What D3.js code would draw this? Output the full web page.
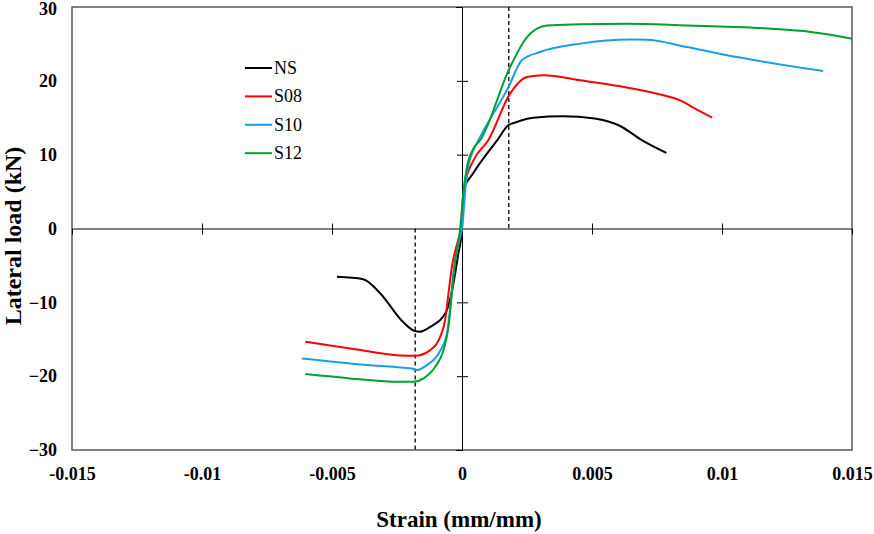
<!DOCTYPE html>
<html>
<head>
<meta charset="utf-8">
<script src="https://cdn.jsdelivr.net/npm/d3@7"></script>
<style>
  body { margin: 0; background: #fff; }
  svg { display: block; font-family: "Liberation Serif", "Times New Roman", serif; }
</style>
</head>
<body>
<div id="chart"></div>
<script>
// strain (mm/mm), lateral load (kN)
const ns = [[-0.00481, -6.55], [-0.0038, -6.86], [-0.00315, -8.76], [-0.00226, -12.68], [-0.0018, -13.9],
  [-0.00161, -13.97], [-0.00122, -13.32], [-0.00061, -11.29], [-0.00038, -8.35], [-0.00015, -3.6], [0, 0],
  [0.00005, 5.18], [0.00043, 7.48], [0.00135, 11.94], [0.00178, 13.98], [0.00211, 14.43], [0.00274, 15.0],
  [0.0039, 15.2], [0.0051, 14.9], [0.0061, 13.85], [0.0069, 12.0], [0.00786, 10.23]];
const s08 = [[-0.00603, -15.35], [-0.0043, -16.24], [-0.00238, -17.2], [-0.0018, -17.24], [-0.00122, -16.47],
  [-0.00084, -14.67], [-0.00065, -12.41], [-0.00052, -8.8], [-0.00039, -5.2], [-0.00015, -1.6], [-0.00003, 0],
  [0.00012, 6.09], [0.00044, 9.24], [0.00101, 11.94], [0.00185, 18.27], [0.0025, 20.52], [0.00314, 20.75],
  [0.00455, 20.07], [0.00609, 19.26], [0.00775, 18.04], [0.0084, 17.36], [0.0089, 16.37], [0.00962, 15.02]];
const s10 = [[-0.00616, -17.6], [-0.0043, -18.27], [-0.00225, -18.86], [-0.00193, -18.95], [-0.00174, -19.18],
  [-0.00135, -18.5], [-0.0009, -16.92], [-0.00058, -14.2], [-0.00045, -10.6], [-0.00035, -6.55], [-0.00015, -2.26],
  [0, 0], [0.00019, 7.44], [0.00044, 10.6], [0.00063, 11.95], [0.00179, 19.16], [0.0023, 22.78], [0.003, 23.9],
  [0.00455, 25.04], [0.0065, 25.6], [0.00711, 25.58], [0.00865, 24.58], [0.01058, 23.22], [0.01389, 21.33]];
const s12 = [[-0.00603, -19.72], [-0.0043, -20.3], [-0.00238, -20.76], [-0.00187, -20.76], [-0.00148, -20.3],
  [-0.00103, -18.73], [-0.00071, -16.47], [-0.00052, -13.32], [-0.00039, -8.8], [-0.00026, -4.29], [-0.00007, 0],
  [0.00006, 5.18], [0.00019, 8.34], [0.00044, 10.83], [0.0007, 11.95], [0.00185, 21.87], [0.0025, 25.93],
  [0.00327, 27.51], [0.00455, 27.65], [0.0063, 27.74], [0.00865, 27.51], [0.01122, 27.2], [0.01314, 26.74],
  [0.01404, 26.3], [0.015, 25.71]];

const seriesNames = ['NS', 'S08', 'S10', 'S12'];
const seriesColors = ['#000000', '#ff0000', '#1a9fe6', '#00a032'];
const xTicks = [-0.015, -0.01, -0.005, 0, 0.005, 0.01, 0.015];
const yTicks = [-30, -20, -10, 0, 10, 20, 30];
const yieldStrain = 0.0018;

const width = 874, height = 534;
const margin = {top: 7, right: 22, bottom: 84, left: 72};

const svg = d3.select('#chart').append('svg')
  .attr('width', width)
  .attr('height', height);

const x = d3.scaleLinear().domain([-0.015, 0.015]).range([margin.left, width - margin.right]);
const y = d3.scaleLinear().domain([-30, 30]).range([height - margin.bottom, margin.top]);

// plot frame
svg.append('rect')
  .attr('x', x(-0.015)).attr('y', y(30))
  .attr('width', x(0.015) - x(-0.015)).attr('height', y(-30) - y(30))
  .attr('fill', 'none').attr('stroke', '#595959').attr('stroke-width', 1.5);

// x axis through zero, ticks crossing the line
const xAxis = svg.append('g')
  .attr('transform', `translate(0,${y(0)})`)
  .call(d3.axisBottom(x).tickValues(xTicks.filter(d => d !== 0 && Math.abs(d) < 0.015))
    .tickSize(6).tickFormat(''));
xAxis.select('.domain').attr('stroke', '#000');
xAxis.selectAll('.tick line').attr('y1', -5).attr('y2', 6).attr('stroke', '#000');

// y axis through zero
const yAxis = svg.append('g')
  .attr('transform', `translate(${x(0)},0)`)
  .call(d3.axisLeft(y).tickValues(yTicks.filter(d => d !== 0 && Math.abs(d) < 30))
    .tickSize(6).tickFormat(''));
yAxis.select('.domain').attr('stroke', '#000');
yAxis.selectAll('.tick line').attr('x1', -5).attr('x2', 6).attr('stroke', '#000');

// tick labels along the bottom and left of the frame
const xLabels = svg.append('g')
  .attr('transform', `translate(0,${y(-30)})`)
  .call(d3.axisBottom(x).tickValues(xTicks).tickSize(0).tickPadding(17).tickFormat(d => d === 0 ? '0' : String(d)));
xLabels.select('.domain').remove();
xLabels.selectAll('text')
  .attr('font-family', '"Liberation Serif", serif')
  .attr('font-size', 18).attr('font-weight', 'bold').attr('fill', '#000');

const yLabels = svg.append('g')
  .attr('transform', `translate(${x(-0.015)},0)`)
  .call(d3.axisLeft(y).tickValues(yTicks).tickSize(0).tickPadding(15));
yLabels.select('.domain').remove();
yLabels.selectAll('text')
  .attr('font-family', '"Liberation Serif", serif')
  .attr('font-size', 18).attr('font-weight', 'bold').attr('fill', '#000')
  .attr('dy', d => d === 30 ? '0.42em' : '0.32em');

// yield strain markers
svg.append('line')
  .attr('x1', x(yieldStrain)).attr('x2', x(yieldStrain))
  .attr('y1', y(30)).attr('y2', y(0))
  .attr('stroke', '#000').attr('stroke-width', 1.3).attr('stroke-dasharray', '4,3');
svg.append('line')
  .attr('x1', x(-yieldStrain)).attr('x2', x(-yieldStrain))
  .attr('y1', y(0)).attr('y2', y(-30))
  .attr('stroke', '#000').attr('stroke-width', 1.3).attr('stroke-dasharray', '4,3');

// curves
const line = d3.line()
  .x(d => x(d[0]))
  .y(d => y(d[1]))
  .curve(d3.curveMonotoneX);

const allSeries = [ns, s08, s10, s12];
svg.selectAll('.curve')
  .data(allSeries)
  .enter().append('path')
  .attr('class', 'curve')
  .attr('d', line)
  .attr('fill', 'none')
  .attr('stroke', (d, i) => seriesColors[i])
  .attr('stroke-width', 2);

// legend
const legend = svg.selectAll('.legend')
  .data(seriesNames)
  .enter().append('g')
  .attr('class', 'legend')
  .attr('transform', (d, i) => `translate(245,${68 + i * 28.4})`);
legend.append('line')
  .attr('x1', 0).attr('x2', 27)
  .attr('stroke', (d, i) => seriesColors[i]).attr('stroke-width', 2);
legend.append('text')
  .attr('x', 29).attr('y', 6)
  .attr('font-size', 18).attr('fill', '#000')
  .text(d => d);

// axis titles
svg.append('text')
  .attr('x', 459).attr('y', 527)
  .attr('text-anchor', 'middle')
  .attr('font-size', 23).attr('font-weight', 'bold')
  .text('Strain (mm/mm)');
svg.append('text')
  .attr('transform', `translate(21,${236}) rotate(-90)`)
  .attr('text-anchor', 'middle')
  .attr('font-size', 24).attr('font-weight', 'bold')
  .text('Lateral load (kN)');
</script>
</body>
</html>
